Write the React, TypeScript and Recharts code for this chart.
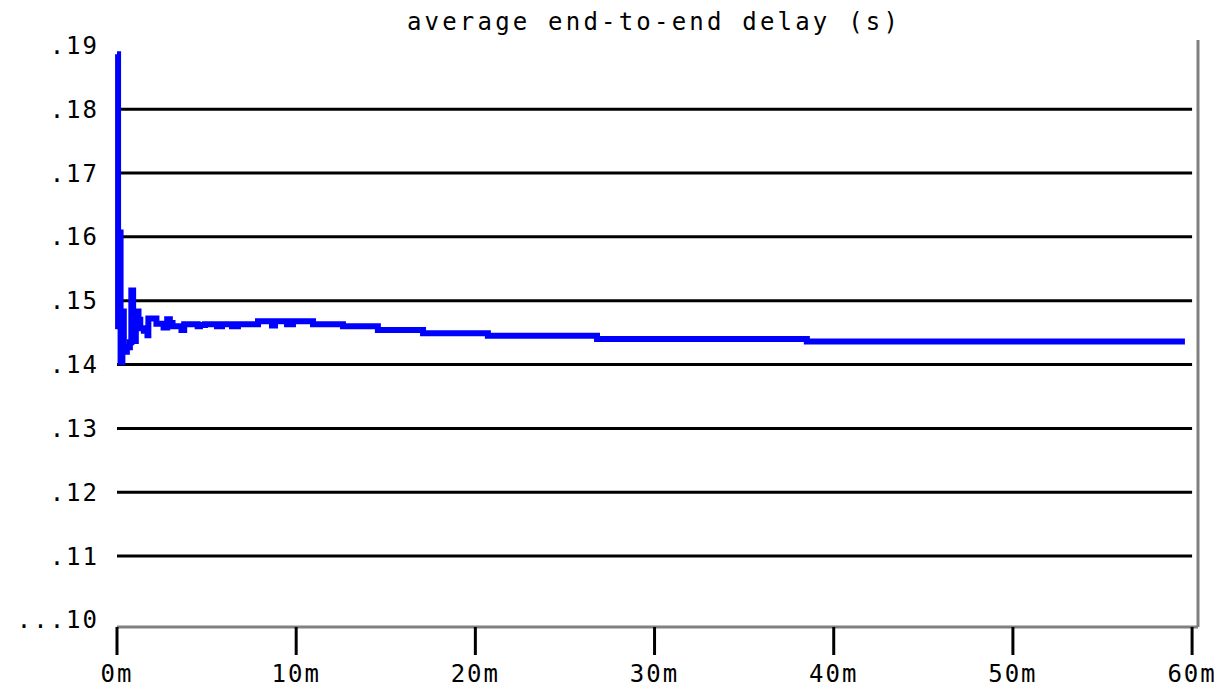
import { LineChart, Line, XAxis, YAxis, ReferenceLine } from 'recharts';

// minutes since start
const times = [
  0, 0.06, 0.12, 0.2, 0.3, 0.38, 0.55, 0.72, 0.8, 0.9, 1.05, 1.2, 1.3, 1.5, 1.7, 1.75,
  2.2, 2.6, 2.8, 2.95, 3.1, 3.6, 3.75, 4.5, 4.63, 4.91, 5.58, 5.86, 6.42, 6.75, 7.87,
  8.65, 8.82, 9.49, 9.82, 10.94, 12.61, 14.56, 17.08, 20.7, 26.79, 38.5, 59.6,
];
// average end-to-end delay in seconds
const delays = [
  0.1886, 0.146, 0.1607, 0.1404, 0.1483, 0.142, 0.1427, 0.1435, 0.1516, 0.1437, 0.1483,
  0.147, 0.1457, 0.1453, 0.1446, 0.1472, 0.1464, 0.1458, 0.1471, 0.1465, 0.146, 0.1454,
  0.1463, 0.146, 0.1462, 0.1463, 0.146, 0.1463, 0.146, 0.1463, 0.1468, 0.1461, 0.1468,
  0.1463, 0.1468, 0.1463, 0.146, 0.1454, 0.1449, 0.1445, 0.144, 0.1436, 0.1436,
];

const xTicks = [0, 10, 20, 30, 40, 50, 60];
const yTicks = [0.1, 0.11, 0.12, 0.13, 0.14, 0.15, 0.16, 0.17, 0.18, 0.19];
const gridLevels = [0.11, 0.12, 0.13, 0.14, 0.15, 0.16, 0.17, 0.18];

const X_MAX = 60.33;
// axis sits a little below the .10 level, frame top a little above .19
const Y_MIN = 0.0989;
const Y_MAX = 0.19083;
const FONT = '"DejaVu Sans Mono", monospace';

const data = times.map((t, i) => ({ t, delay: delays[i] }));

const formatY = (v: number) => {
  const n = Math.round(v * 100);
  return n === 10 ? '...10' : `.${n}`;
};

export default function App() {
  return (
    <div style={{ position: 'relative', width: 1214, height: 681, background: '#fff' }}>
      <div
        style={{
          position: 'absolute',
          left: 646,
          top: 0,
          transform: 'translateX(-50%)',
          fontFamily: FONT,
          fontSize: 24,
          letterSpacing: 3.2,
          lineHeight: '28px',
          whiteSpace: 'nowrap',
          color: '#000',
        }}
      >
        average end-to-end delay (s)
      </div>
      <LineChart
        width={1214}
        height={681}
        data={data}
        margin={{ top: 32, right: 24, left: 19, bottom: 12 }}
      >
        <XAxis
          dataKey="t"
          type="number"
          domain={[0, X_MAX]}
          ticks={xTicks}
          tickFormatter={(v) => `${v}m`}
          height={50}
          tickSize={28}
          tickMargin={10}
          axisLine={{ stroke: '#808080', strokeWidth: 3 }}
          tickLine={{ stroke: '#000', strokeWidth: 3 }}
          tick={{ fill: '#000', fontSize: 24, fontFamily: FONT, letterSpacing: 2 }}
        />
        <YAxis
          type="number"
          domain={[Y_MIN, Y_MAX]}
          ticks={yTicks}
          tickFormatter={formatY}
          width={90}
          tickSize={0}
          tickMargin={18}
          axisLine={false}
          tickLine={false}
          tick={{ fill: '#000', fontSize: 24, fontFamily: FONT, letterSpacing: 2 }}
        />
        {gridLevels.map((lvl) => (
          <ReferenceLine
            key={lvl}
            segment={[
              { x: 0, y: lvl },
              { x: 60, y: lvl },
            ]}
            stroke="#000"
            strokeWidth={3}
          />
        ))}
        <ReferenceLine x={X_MAX} stroke="#808080" strokeWidth={3} />
        <Line
          type="stepAfter"
          dataKey="delay"
          stroke="#0000ff"
          strokeWidth={6}
          dot={false}
          isAnimationActive={false}
        />
      </LineChart>
    </div>
  );
}
